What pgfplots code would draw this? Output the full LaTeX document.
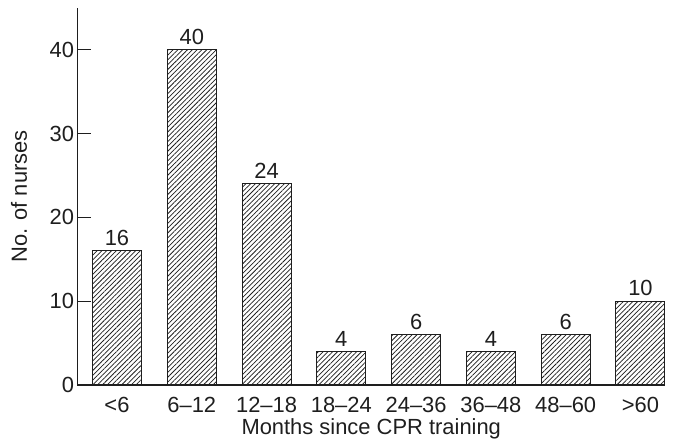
\documentclass[border=0pt]{standalone}
\usepackage{pgfplots}
\pgfplotsset{compat=1.18}
\usepackage{fontspec}
\setmainfont{Liberation Sans}
\usetikzlibrary{patterns.meta}
\definecolor{ink}{RGB}{30,30,30}
\begin{document}
\begin{tikzpicture}
\path[use as bounding box] (-77.5bp,-59bp) rectangle (596.5bp,385bp);
\begin{axis}[
  at={(0,0)}, anchor=south west,
  scale only axis,
  width=587.5bp, height=377bp,
  xmin=-0.528, xmax=7.328,
  ymin=0, ymax=45,
  axis x line*=bottom, axis y line*=left,
  axis line style={line width=1.1bp, ink},
  xtick=data,
  xticklabels={<6,6--12,12--18,18--24,24--36,36--48,48--60,>60},
  x tick style={draw=none},
  ytick={0,10,20,30,40},
  y tick style={line width=1.1bp, ink},
  tick align=inside,
  major tick length=14bp,
  /pgf/number format/assume math mode=true,
  tick label style={font=\fontsize{22}{25}\selectfont, text=ink},
  label style={font=\fontsize{22}{25}\selectfont, text=ink},
  xticklabel style={anchor=base, yshift=-27.5bp},
  yticklabel style={xshift=0bp},
  xlabel={Months since CPR training},
  ylabel={No. of nurses},
  xlabel style={at={(axis description cs:0.5,0)}, anchor=base, yshift=-49.5bp},
  ylabel style={at={(axis description cs:-0.0996,0.5)}, anchor=center},
  nodes near coords,
  every node near coord/.append style={font=\fontsize{22}{25}\selectfont, text=ink, yshift=1.5bp},
  clip=false,
]
\addplot[ybar, bar width=49bp, draw=ink, line width=1bp,
  pattern={Lines[angle=45, distance=3.4bp, line width=0.75bp]}, pattern color=ink]
  coordinates {(0,16) (1,40) (2,24) (3,4) (4,6) (5,4) (6,6) (7,10)};
\end{axis}
\end{tikzpicture}
\end{document}
